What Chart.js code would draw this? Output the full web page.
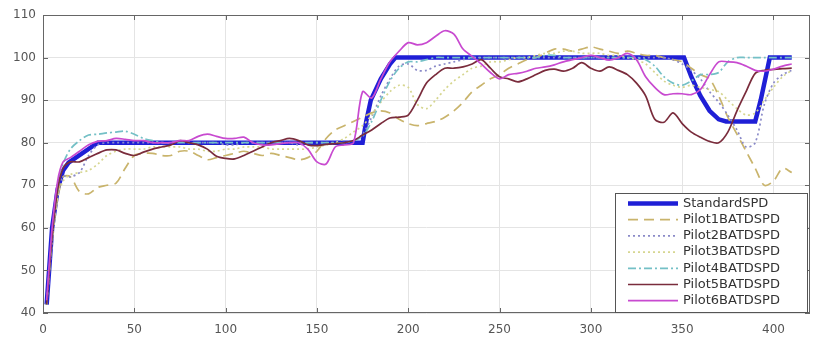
<!DOCTYPE html>
<html>
<head>
<meta charset="utf-8">
<script src="https://cdn.jsdelivr.net/npm/chart.js@4.4.1/dist/chart.umd.min.js"></script>
<style>
  html, body { margin: 0; padding: 0; background: #fff; }
  #wrap { width: 827px; height: 347px; position: relative; }
</style>
</head>
<body>
<div id="wrap"><canvas id="c"></canvas></div>
<script>
// x positions shared by the pilot series
var steps = [2, 5, 8, 11,
  15, 20, 25, 30, 35, 40, 45, 50, 55, 60,
  65, 70, 75, 80, 85, 90, 95, 100, 105, 110,
  115, 120, 125, 130, 135, 140, 145, 150, 155, 160,
  165, 170, 175, 180, 185, 190, 195, 200, 205, 210,
  215, 220, 225, 230, 235, 240, 245, 250, 255, 260,
  265, 270, 275, 280, 285, 290, 295, 300, 305, 310,
  315, 320, 325, 330, 335, 340, 345, 350, 355, 360,
  365, 370, 375, 380, 385, 390, 395, 400, 405, 410];

var standardX = [2, 5, 8, 11, 14, 30, 175, 177, 179.5, 185, 190, 193, 351, 355, 360, 365, 370, 374, 390, 393, 396, 398, 410];
var standardY = [42, 60, 69, 73.5, 75.3, 80, 80, 85, 90, 95, 98.5, 100, 100, 95.5, 91, 87.5, 85.5, 85, 85, 90, 96, 100, 100];

var pilot1 = [42, 57, 67, 72,
  72, 68.5, 68, 69.5, 70, 70.5, 74, 77, 77.5, 77.5,
  77, 77, 78, 78, 77, 76, 76.5, 77, 77.5, 78,
  77.5, 77, 77.5, 77, 76.5, 76, 76.5, 78, 81, 83,
  84, 85, 86, 87, 87.5, 87, 85.5, 84.5, 84, 84.5,
  85, 86, 87.5, 89.5, 92, 93.5, 95, 96, 97.5, 98.5,
  99.5, 100, 101, 102, 102, 101.5, 102, 102.5, 102, 101.5,
  101, 101.5, 101, 100.5, 100.5, 100, 99.5, 99, 97.5, 96,
  95, 91, 86, 82, 78, 74, 70, 71, 74, 73];

var pilot2 = [42, 58, 68, 72,
  72, 73, 77, 79.5, 80, 80, 80, 80, 80, 80,
  80, 80, 80.5, 80, 80, 80, 80, 79.5, 79.5, 80,
  80, 80, 80, 80, 80, 79.5, 80, 80, 80, 80,
  80, 80.5, 82, 86, 91, 95, 98, 98.5, 97, 97,
  98, 98.5, 99, 99.5, 100, 100, 100, 100, 100, 100,
  100, 100, 100, 100, 100, 100, 100, 100, 100, 100,
  100, 100, 100, 100, 100, 100, 99.5, 98.5, 97, 95,
  92, 89.5, 86.5, 83, 79, 80, 89, 94, 96, 97];

var pilot3 = [42, 57, 67, 71,
  72.5, 73, 73.5, 75, 77, 78, 78.5, 78.5, 78.5, 79,
  79, 79, 79, 78.5, 78.5, 78, 78, 78.5, 78.5, 79,
  79, 79, 78.5, 78.5, 78.5, 78.5, 78.5, 79, 79.5, 80,
  81, 82.5, 84, 86.5, 89.5, 92, 93.5, 93, 89, 88,
  90, 92.5, 94.5, 96, 97.5, 98, 99, 99, 99.5, 100,
  100, 100.5, 101, 101, 101.5, 101.5, 101, 101, 101, 100.5,
  100.5, 100, 99.5, 98.5, 96.5, 94.5, 93.5, 93, 93.5, 93,
  92.5, 92, 90, 88, 86.5, 87, 90, 93, 95.5, 97];

var pilot4 = [42, 58, 69, 75,
  78.5, 80.5, 81.8, 82, 82.3, 82.5, 82.7, 82, 81, 80.5,
  80, 80, 80, 80, 80, 80, 80, 80, 80, 80,
  80, 80, 80, 80, 80, 80, 80, 80, 80, 80,
  80, 80.5, 81.5, 85, 90, 94.5, 97.5, 99, 99, 99.5,
  100, 100, 100, 100, 100, 100, 100, 100, 100, 100,
  100, 100, 100.5, 100.5, 100, 100, 100, 100, 100, 100,
  100, 100, 100, 99.5, 98, 95.5, 94, 93.5, 94.5, 96,
  96, 96.5, 99, 100, 100, 100, 100, 100, 100, 100];

var pilot5 = [42, 58, 69, 74,
  75.5, 75.5, 76.5, 77.5, 78.3, 78.3, 77.5, 77, 77.8, 78.5,
  79, 79.5, 80.5, 80, 79.5, 78.5, 76.8, 76.3, 76.2, 77,
  78, 79, 80, 80.5, 81, 80.5, 79.5, 79.3, 79.6, 79.8,
  80, 80.5, 81.8, 83, 84.5, 85.8, 86, 86.5, 90, 94,
  96, 97.5, 97.5, 97.8, 98.5, 99.5, 97.5, 95.5, 95, 94.3,
  95, 96, 97, 97.3, 96.8, 97.5, 98.8, 97.5, 96.8, 97.8,
  97, 96, 94, 91, 85.5, 84.8, 87, 84.5, 82.5, 81.3,
  80.3, 80, 82.5, 87.5, 92, 96.3, 97, 97.2, 97.4, 97.5];

var pilot6 = [43, 60, 71, 75.5,
  76.5, 78, 79.5, 80.3, 80.5, 81, 80.8, 80.5, 80.5, 80,
  80, 80, 80.5, 80.5, 81.5, 82, 81.5, 81, 81, 81.3,
  80, 79.5, 79.5, 79.8, 80, 80, 78.5, 75.5, 75, 79,
  79.5, 80, 92, 90.5, 95, 99, 101.5, 103.5, 103, 103.5,
  105, 106.3, 105.5, 102, 100.3, 98.5, 96.5, 95, 96, 96.3,
  96.8, 97.5, 97.8, 98.3, 99, 99.5, 100, 100.5, 100, 99.4,
  100, 101, 99.5, 95.5, 93, 91.3, 91.5, 91.5, 91.3, 92.5,
  96, 99, 99, 98.8, 98, 97, 96.8, 97.3, 98, 98.5];

var seriesNames = ['StandardSPD', 'Pilot1BATDSPD', 'Pilot2BATDSPD', 'Pilot3BATDSPD', 'Pilot4BATDSPD', 'Pilot5BATDSPD', 'Pilot6BATDSPD'];
var xTicks = [0, 50, 100, 150, 200, 250, 300, 350, 400];
var yTicks = [40, 50, 60, 70, 80, 90, 100, 110];

function pts(xs, ys) {
  return xs.map(function (x, i) { return {x: x, y: ys[i]}; });
}

var styles = [
  {color: '#1f1fd6', width: 4.5, dash: [], tension: 0},
  {color: '#c9b46c', width: 1.7, dash: [10, 6], tension: 0.3},
  {color: '#8a8ac8', width: 1.7, dash: [2, 3], tension: 0.3},
  {color: '#d6d690', width: 1.7, dash: [2, 3], tension: 0.3},
  {color: '#74c0c6', width: 1.7, dash: [8, 3, 2, 3], tension: 0.3},
  {color: '#7a2c3c', width: 1.7, dash: [], tension: 0.3},
  {color: '#c84ad0', width: 1.7, dash: [], tension: 0.3}
];

var seriesData = [pts(standardX, standardY), pts(steps, pilot1), pts(steps, pilot2), pts(steps, pilot3),
  pts(steps, pilot4), pts(steps, pilot5), pts(steps, pilot6)];

var datasets = seriesNames.map(function (name, i) {
  var s = styles[i];
  return {
    label: name,
    data: seriesData[i],
    borderColor: s.color,
    borderWidth: s.width,
    borderDash: s.dash,
    tension: s.tension,
    pointRadius: 0,
    fill: false,
    order: seriesNames.length - i
  };
});

// matlab style box, inward ticks and legend inside the axes
var boxPlugin = {
  id: 'box',
  afterDraw: function (chart) {
    var ctx = chart.ctx, a = chart.chartArea;
    var xs = chart.scales.x, ys = chart.scales.y;
    ctx.save();
    ctx.strokeStyle = '#666';
    ctx.lineWidth = 1;
    ctx.strokeRect(a.left + 0.5, a.top + 0.5, a.right - a.left - 1, a.bottom - a.top - 1);
    ctx.beginPath();
    xTicks.forEach(function (v) {
      var px = Math.round(xs.getPixelForValue(v)) + 0.5;
      ctx.moveTo(px, a.bottom); ctx.lineTo(px, a.bottom - 5);
      ctx.moveTo(px, a.top); ctx.lineTo(px, a.top + 5);
    });
    yTicks.forEach(function (v) {
      var py = Math.round(ys.getPixelForValue(v)) + 0.5;
      ctx.moveTo(a.left, py); ctx.lineTo(a.left + 5, py);
      ctx.moveTo(a.right, py); ctx.lineTo(a.right - 5, py);
    });
    ctx.stroke();

    // legend
    var bw = 193, bh = 120;
    var bx = a.right - 2 - bw, by = a.bottom - bh;
    ctx.fillStyle = '#fff';
    ctx.fillRect(bx, by, bw, bh);
    ctx.strokeStyle = '#555';
    ctx.strokeRect(bx + 0.5, by + 0.5, bw - 1, bh - 1);
    ctx.font = '13px "DejaVu Sans", sans-serif';
    ctx.textBaseline = 'middle';
    seriesNames.forEach(function (name, i) {
      var s = styles[i];
      var yy = by + 10.5 + i * 16.2;
      ctx.beginPath();
      ctx.setLineDash(s.dash);
      ctx.strokeStyle = s.color;
      ctx.lineWidth = s.width;
      ctx.moveTo(bx + 13, yy); ctx.lineTo(bx + 63, yy);
      ctx.stroke();
      ctx.setLineDash([]);
      ctx.fillStyle = '#333';
      ctx.fillText(name, bx + 68, yy);
    });
    ctx.restore();
  }
};

new Chart(document.getElementById('c'), {
  type: 'line',
  data: {datasets: datasets},
  plugins: [boxPlugin],
  options: {
    responsive: true,
    maintainAspectRatio: false,
    animation: false,
    layout: {padding: {top: 15, right: 17, left: 0, bottom: 0}},
    plugins: {legend: {display: false}, tooltip: {enabled: false}},
    scales: {
      x: {
        type: 'linear', min: 0, max: 420,
        afterFit: function (s) { s.height = 34; },
        afterBuildTicks: function (s) { s.ticks = xTicks.map(function (v) { return {value: v}; }); },
        grid: {color: '#e4e4e4', drawTicks: false},
        border: {display: false},
        ticks: {padding: 10, color: '#555', font: {family: '"DejaVu Sans", sans-serif', size: 12}, maxRotation: 0}
      },
      y: {
        min: 40, max: 110,
        afterFit: function (s) { s.width = 43; },
        afterBuildTicks: function (s) { s.ticks = yTicks.map(function (v) { return {value: v}; }); },
        grid: {color: '#e4e4e4', drawTicks: false},
        border: {display: false},
        ticks: {padding: 7, color: '#555', font: {family: '"DejaVu Sans", sans-serif', size: 12}}
      }
    }
  }
});
</script>
</body>
</html>
